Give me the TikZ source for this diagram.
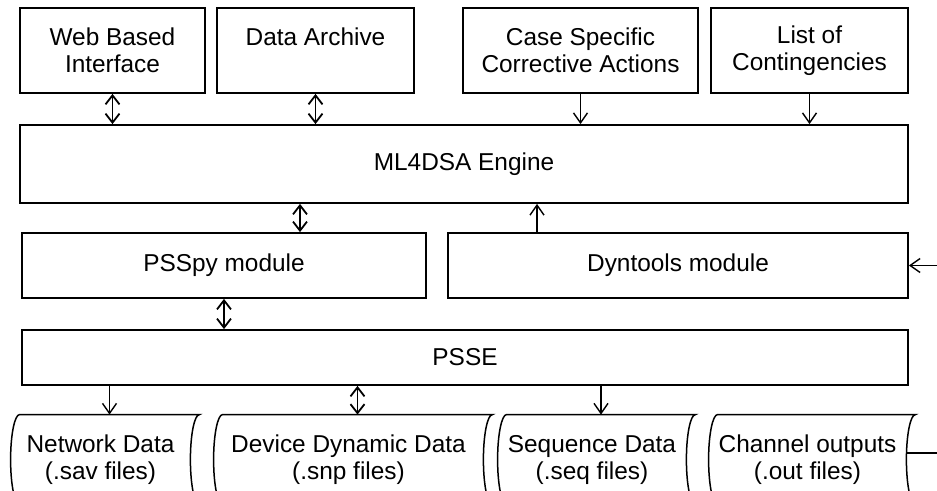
\documentclass[tikz,border=0pt]{standalone}
\usepackage{fontspec}
\setmainfont{Liberation Sans}
\usetikzlibrary{arrows.meta}
\tikzset{
  box/.style={draw,line width=0.9pt,align=center,inner sep=0pt,font=\fontsize{12.2}{13.6}\selectfont},
  store/.style={align=center,inner sep=0pt,minimum height=45pt,font=\fontsize{12.2}{13.6}\selectfont},
  bi/.style={{Straight Barb[length=4.5pt,width=7pt,line width=0.9pt]}-{Straight Barb[length=4.5pt,width=7pt,line width=0.9pt]},line width=0.9pt},
  one/.style={-{Straight Barb[length=5pt,width=7pt,line width=0.7pt]},line width=0.55pt}
}
\begin{document}
\begin{tikzpicture}[x=0.5pt,y=-0.5pt]
\useasboundingbox (0,0) rectangle (937,491);
\clip (0,0) rectangle (937,491);
% inputs and outputs of the engine
\node[box,minimum width=92.5pt,minimum height=42.5pt] (web) at (112.5,50.5) {Web Based\\Interface};
\node[box,minimum width=98.5pt,minimum height=42.5pt] (archive) at (315.5,50.5) {Data Archive\\\phantom{I}};
\node[box,minimum width=117.5pt,minimum height=42.5pt] (actions) at (580.5,50.5) {Case Specific\\Corrective Actions};
\node[box,minimum width=98.5pt,minimum height=42.5pt] (contingencies) at (809.5,50.5) {List of\\Contingencies};
\node[box,minimum width=444pt,minimum height=39pt] (engine) at (464,164) {ML4DSA Engine};
% PSSE side
\node[box,minimum width=202pt,minimum height=32.5pt] (psspy) at (224,265.5) {PSSpy module};
\node[box,minimum width=230pt,minimum height=32.5pt] (dyntools) at (678,265.5) {Dyntools module};
\node[box,minimum width=443pt,minimum height=27.5pt] (psse) at (465,357.5) {PSSE};
% data files
\node[store,minimum width=89.5pt] (netdata) at (100.5,460) {Network Data\\(.sav files)};
\node[store,minimum width=134.5pt] (devdata) at (348.5,460) {Device Dynamic Data\\(.snp files)};
\node[store,minimum width=94pt] (seqdata) at (592,460) {Sequence Data\\(.seq files)};
\node[store,minimum width=98.5pt] (chanout) at (807.5,460) {Channel outputs\\(.out files)};
\foreach \n in {netdata,devdata,seqdata,chanout}
  \draw[line width=0.75pt] ([xshift=4.5pt]\n.north west) -- ([xshift=4.5pt]\n.north east)
    arc[start angle=90,end angle=270,x radius=4.5pt,y radius=22.5pt]
    ([xshift=4.5pt]\n.north west) arc[start angle=90,end angle=270,x radius=4.5pt,y radius=22.5pt];
% connectors
\draw[bi] (web.south) -- (web.south |- engine.north);
\draw[bi] (archive.south) -- (archive.south |- engine.north);
\draw[one] (actions.south) -- (actions.south |- engine.north);
\draw[one] (contingencies.south) -- (contingencies.south |- engine.north);
\draw[bi] ([xshift=38pt]psspy.north |- engine.south) -- ([xshift=38pt]psspy.north);
\draw[one] ([xshift=-70.5pt]dyntools.north) -- ([xshift=-70.5pt]dyntools.north |- engine.south);
\draw[bi] (psspy.south) -- (psspy.south |- psse.north);
\draw[one] ([xshift=4.5pt]netdata.north |- psse.south) -- ([xshift=4.5pt]netdata.north);
\draw[bi] ([xshift=4.5pt]devdata.north |- psse.south) -- ([xshift=4.5pt]devdata.north);
\draw[one] ([xshift=4.5pt]seqdata.north |- psse.south) -- ([xshift=4.5pt]seqdata.north);
\draw[one] ([yshift=3.5pt]chanout.east) -- ++(45,0) |- (dyntools.east);
\end{tikzpicture}
\end{document}
